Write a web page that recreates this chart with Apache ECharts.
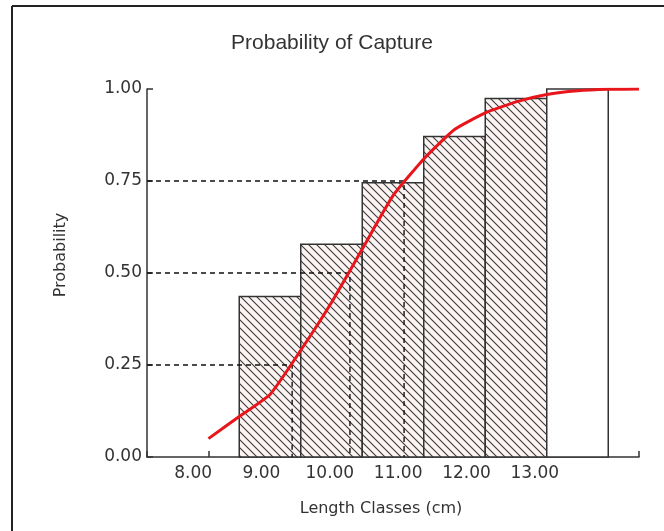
<!DOCTYPE html>
<html>
<head>
<meta charset="utf-8">
<script src="https://cdn.jsdelivr.net/npm/echarts@6/dist/echarts.min.js"></script>
<style>
html,body{margin:0;padding:0;background:#fff;}
#c{width:664px;height:531px;}
</style>
</head>
<body>
<div id="c"></div>
<script>
// ---- data ----
const lengthClasses = [9, 10, 11, 12, 13, 14];            // bar centres (cm)
const observedProb = [0.436, 0.578, 0.745, 0.871, 0.974, 1.0];
const curveX = [8.0, 8.5, 9.0, 9.5, 10.0, 10.5, 11.0, 11.5, 12.0, 12.5, 13.0, 13.5, 14.0, 14.5, 15.0];
const curveY = [0.05, 0.11, 0.17, 0.29, 0.42, 0.565, 0.71, 0.81, 0.89, 0.935, 0.965, 0.985, 0.995, 0.999, 1.0];
const refProb = [0.25, 0.50, 0.75];
const refLength = [9.36, 10.30, 11.18];                  // L25, L50, L75
const xTickLabels = ['8.00', '9.00', '10.00', '11.00', '12.00', '13.00'];

// ---- hatch pattern ----
function makeHatch() {
  const s = 8;
  const cv = document.createElement('canvas');
  cv.width = s; cv.height = s;
  const g = cv.getContext('2d');
  g.fillStyle = '#fbf4f3';
  g.fillRect(0, 0, s, s);
  g.strokeStyle = '#3a3a3a';
  g.lineWidth = 1.1;
  g.beginPath();
  g.moveTo(-2, -2); g.lineTo(s + 2, s + 2);
  g.moveTo(-2, s - 2); g.lineTo(2, s + 2);
  g.moveTo(s - 2, -2); g.lineTo(s + 2, 2);
  g.stroke();
  return cv;
}
const hatch = makeHatch();

const chart = echarts.init(document.getElementById('c'), null, {renderer: 'canvas'});

const refSeries = refProb.map((p, i) => ({
  type: 'line',
  xAxisIndex: 0, yAxisIndex: 0,
  data: [[7, p], [refLength[i], p], [refLength[i], 0]],
  symbol: 'none',
  silent: true,
  z: 3,
  lineStyle: {color: '#111', width: 1.4, type: [5, 4]}
}));

const option = {
  animation: false,
  backgroundColor: '#fff',
  title: {
    text: 'Probability of Capture',
    left: 'center',
    top: 28,
    textStyle: {fontFamily: 'Liberation Sans', fontSize: 21, fontWeight: 'normal', color: '#333'}
  },
  graphic: [
    {type: 'line', shape: {x1: 12, y1: 6, x2: 664, y2: 6}, style: {stroke: '#222', lineWidth: 2}},
    {type: 'line', shape: {x1: 12, y1: 6, x2: 12, y2: 531}, style: {stroke: '#222', lineWidth: 2}}
  ],
  grid: [
    {left: 147, right: 25, top: 89, bottom: 74},
    {left: 159, right: 95, top: 89, bottom: 74}
  ],
  xAxis: [
    {
      type: 'value', gridIndex: 0, min: 7, max: 15, interval: 1,
      axisLine: {lineStyle: {color: '#333', width: 1.5}},
      axisTick: {inside: true, length: 6, lineStyle: {color: '#333', width: 1.5}},
      axisLabel: {show: false},
      splitLine: {show: false},
      name: 'Length Classes (cm)',
      nameLocation: 'middle',
      nameGap: 44,
      nameTextStyle: {fontFamily: 'DejaVu Sans', fontSize: 16, color: '#333', padding: [0, 24, 0, 0]}
    },
    {
      type: 'category', gridIndex: 1, data: xTickLabels, boundaryGap: true,
      axisLine: {show: false}, axisTick: {show: false},
      axisLabel: {fontFamily: 'DejaVu Sans', fontSize: 17, color: '#333', margin: 8}
    }
  ],
  yAxis: [
    {
      type: 'value', gridIndex: 0, min: 0, max: 1, interval: 0.25,
      axisLine: {show: true, lineStyle: {color: '#333', width: 1.5}},
      axisTick: {show: true, inside: true, length: 6, lineStyle: {color: '#333', width: 1.5}},
      axisLabel: {formatter: v => v.toFixed(2), fontFamily: 'DejaVu Sans', fontSize: 17, color: '#333', margin: 5},
      splitLine: {show: false},
      name: 'Probability',
      nameLocation: 'middle',
      nameGap: 78,
      nameRotate: 90,
      nameTextStyle: {fontFamily: 'DejaVu Sans', fontSize: 16, color: '#333', padding: [0, 0, 0, 36]}
    },
    {type: 'value', gridIndex: 1, min: 0, max: 1, show: false}
  ],
  series: [
    {
      type: 'custom',
      xAxisIndex: 0, yAxisIndex: 0,
      data: lengthClasses.map((x, i) => [x, observedProb[i]]),
      z: 2,
      renderItem: function (params, api) {
        const x = api.value(0), y = api.value(1);
        const tl = api.coord([x - 0.5, y]);
        const br = api.coord([x + 0.5, 0]);
        const last = params.dataIndex === lengthClasses.length - 1;
        return {
          type: 'rect',
          shape: {x: tl[0], y: tl[1], width: br[0] - tl[0], height: br[1] - tl[1]},
          style: {
            fill: last ? '#fff' : {image: hatch, repeat: 'repeat'},
            stroke: '#333',
            lineWidth: 1.5
          }
        };
      }
    },
    ...refSeries,
    {
      type: 'line',
      xAxisIndex: 0, yAxisIndex: 0,
      data: curveX.map((x, i) => [x, curveY[i]]),
      symbol: 'none',
      smooth: 0.15,
      z: 5,
      lineStyle: {color: '#e8151b', width: 3}
    }
  ]
};
chart.setOption(option);
</script>
</body>
</html>
